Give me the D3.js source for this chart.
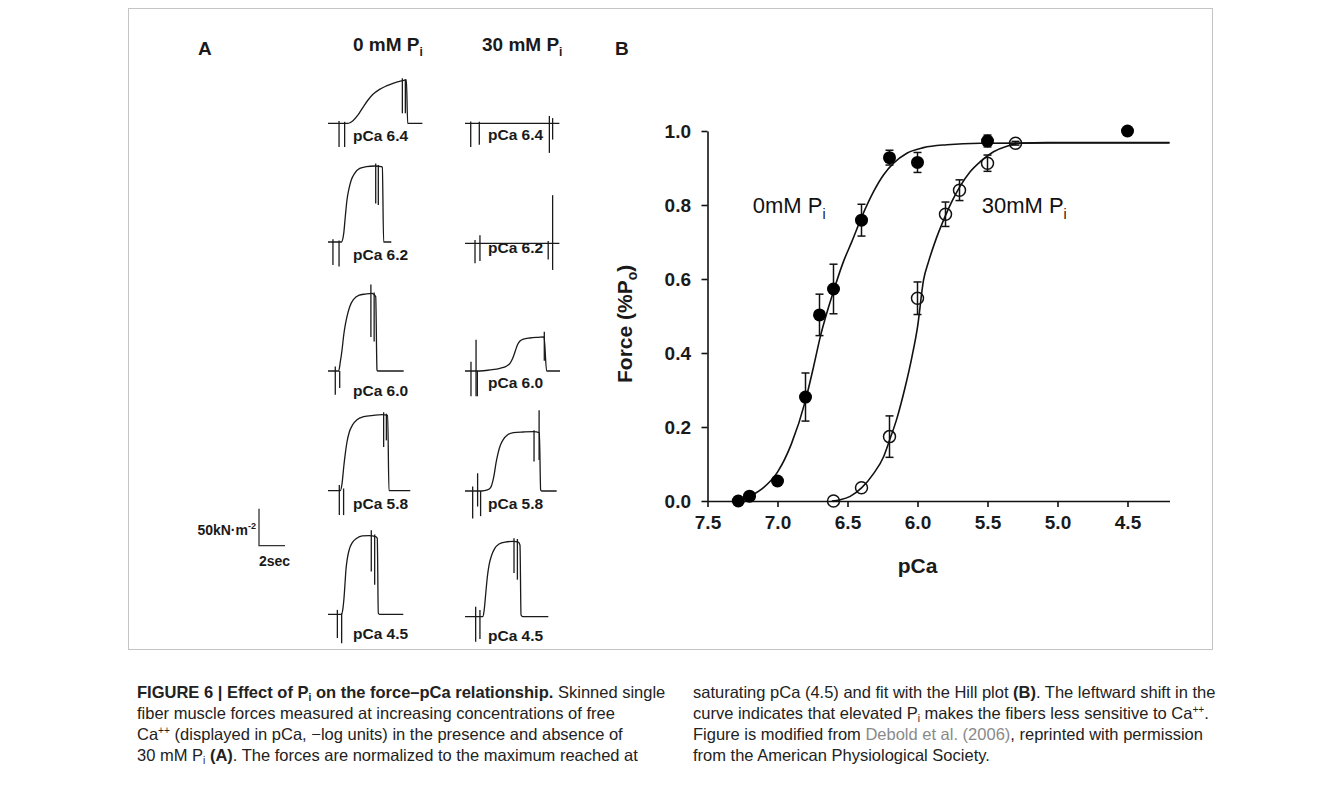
<!DOCTYPE html>
<html><head><meta charset="utf-8">
<script src="https://cdn.jsdelivr.net/npm/d3@7"></script>
<style>
html,body{margin:0;padding:0;background:#fff;}
svg{display:block;font-family:"Liberation Sans",Arial,Helvetica,sans-serif;}
</style></head>
<body>
<svg id="fig" width="1341" height="793"></svg>
<script>
// ---------------- DATA ----------------
// Panel B: force-pCa data (0 mM Pi, filled circles)
const pCa0   = [7.28, 7.2, 7.0, 6.8, 6.7, 6.6, 6.4, 6.2, 6.0, 5.5, 4.5];
const force0 = [0.0, 0.013, 0.054, 0.281, 0.503, 0.573, 0.759, 0.928, 0.915, 0.973, 1.0];
const err0   = [0, 0, 0, 0.065, 0.056, 0.067, 0.043, 0.02, 0.027, 0.016, 0];
// 30 mM Pi, open circles
const pCa30   = [6.6, 6.4, 6.2, 6.0, 5.8, 5.7, 5.5, 5.3];
const force30 = [0.0, 0.036, 0.174, 0.548, 0.775, 0.840, 0.913, 0.967];
const err30   = [0, 0, 0.056, 0.044, 0.033, 0.028, 0.022, 0.005];
// Hill fit curves
const fitPCa0   = [7.30, 7.2, 7.1, 7.0, 6.9, 6.8, 6.743, 6.695, 6.595, 6.529, 6.469, 6.398, 6.314, 6.243, 6.171, 6.076, 5.957, 5.79, 5.552, 4.2];
const fitForce0 = [0.0, 0.0126, 0.036, 0.078, 0.155, 0.272, 0.362, 0.443, 0.573, 0.647, 0.701, 0.768, 0.836, 0.881, 0.913, 0.940, 0.955, 0.963, 0.967, 0.968];
const fitPCa30   = [6.612, 6.552, 6.481, 6.398, 6.314, 6.243, 6.2, 6.148, 6.088, 6.04, 6.0, 5.957, 5.921, 5.874, 5.814, 5.755, 5.695, 5.624, 5.552, 5.457, 5.362, 5.267, 5.076, 4.2];
const fitForce30 = [0.0, 0.0036, 0.0126, 0.036, 0.074, 0.119, 0.164, 0.222, 0.308, 0.389, 0.470, 0.597, 0.647, 0.701, 0.759, 0.809, 0.851, 0.890, 0.917, 0.944, 0.959, 0.967, 0.969, 0.969];
const xTicks = [7.5, 7.0, 6.5, 6.0, 5.5, 5.0, 4.5];
const yTicks = [0.0, 0.2, 0.4, 0.6, 0.8, 1.0];

// Panel A: force traces [time s, force kN/m^2] and artefact spikes [time s, min, max]
const traceLabels = ["pCa 6.4", "pCa 6.2", "pCa 6.0", "pCa 5.8", "pCa 4.5"];
const trace0_64 = [[0,0],[1.54,0],[1.92,3.6],[2.31,11.3],[2.69,21.6],[3.08,31.5],[3.46,39.2],[3.97,45.9],[4.49,50.5],[5.0,54.1],[5.64,57.2],[6.03,58.6],[6.13,0],[7.26,0]];
const spikes0_64 = [[0.85,-32,3],[1.28,-32,2],[5.72,13.5,60.8],[5.95,13.5,59.5]];
const trace0_62 = [[0,0],[1.03,0],[1.21,11.7],[1.33,34.2],[1.46,56.8],[1.62,72.5],[1.79,83.8],[2.05,92.8],[2.44,99.5],[2.95,101.8],[3.59,102.7],[4.1,101.8],[4.18,100.9],[4.28,0],[4.87,0]];
const spikes0_62 = [[0.38,-31,3.6],[0.85,-33,2],[3.67,52,106],[3.87,50,104]];
const trace0_60 = [[0,0],[0.82,0],[0.95,12.6],[1.08,28.4],[1.21,48.6],[1.33,62.2],[1.46,73.4],[1.67,86.9],[1.97,96.8],[2.36,102.3],[2.87,104],[3.38,105],[3.67,100.5],[3.77,1.4],[3.82,0],[5.82,0]];
const spikes0_60 = [[0.56,-32,6],[0.9,-23,0],[3.3,46,117],[3.55,40,106]];
const trace0_58 = [[0,0],[0.95,0],[1.08,9.5],[1.21,32],[1.33,50],[1.46,65.8],[1.64,79.3],[1.9,89.2],[2.23,96],[2.74,100],[3.51,101.8],[4.15,102.7],[4.59,101.8],[4.69,0],[6.33,0]];
const spikes0_58 = [[0.87,-33,7.7],[1.2,-33,3],[4.28,59,106],[4.49,68,104]];
const trace0_45 = [[0,0],[1.03,0],[1.15,8.1],[1.23,21.6],[1.31,41.9],[1.38,59.9],[1.49,75.7],[1.64,87.8],[1.87,96.8],[2.21,102.7],[2.64,105.9],[3.15,106.3],[3.67,105],[3.79,102.7],[3.87,1.4],[3.97,0],[5.79,0]];
const spikes0_45 = [[0.72,-32,6],[1.05,-39,1.4],[3.33,58,113.5],[3.59,40,108]];
const trace30_64 = [[0,0],[7.26,0]];
const spikes30_64 = [[0.44,-32,2.3],[1.1,-29,2],[6.49,-40,10],[6.74,-22,7]];
const trace30_62 = [[0,0],[7.26,0]];
const spikes30_62 = [[0.77,-27,4.5],[1.15,-24,11],[6.4,-22,3],[6.74,-36,65]];
const trace30_60 = [[0,0],[1.15,0],[1.92,1.4],[2.69,3.6],[3.21,6.8],[3.46,10.4],[3.67,17.1],[3.85,26.1],[4.03,35.1],[4.23,40.5],[4.49,43.2],[5.0,44.6],[5.64,45.5],[6.08,46],[6.28,0],[7.31,0]];
const spikes30_60 = [[0.46,-34,12.6],[0.85,-34,42.3],[0.95,-34,0],[6.1,14,53]];
const trace30_58 = [[0,0],[1.28,0],[1.72,1.4],[1.97,4.5],[2.13,12.6],[2.26,23.9],[2.38,37.4],[2.54,50.9],[2.72,61.7],[2.95,69.8],[3.26,75.7],[3.72,78.8],[4.49,79.7],[5.26,80.2],[5.72,78.8],[5.82,1.4],[5.9,0],[7.05,0]];
const spikes30_58 = [[0.59,-37,6],[0.97,-21,24],[1.2,-34,0],[5.31,40,82],[5.7,42,109]];
const trace30_45 = [[0,0],[1.36,0],[1.46,6.8],[1.54,20.3],[1.62,36],[1.72,54],[1.85,69.8],[2.03,82],[2.28,91.9],[2.62,98.2],[3.08,100.9],[3.72,101.8],[4.1,100.9],[4.23,96.8],[4.31,2.3],[4.44,0],[6.41,0]];
const spikes30_45 = [[0.82,-34,13.5],[1.15,-30,9],[3.77,59,106],[4.03,50,105]];
const scaleBarForce = 50;  // kN m^-2
const scaleBarTime = 2;    // s

// ---------------- LAYOUT ----------------
const svg = d3.select("#fig");
const INK = "#1a1a1a";
const PX_PER_S = 13, PX_PER_KN = 0.74;

// figure frame
svg.append("rect").attr("x",128.5).attr("y",8.5).attr("width",1084).attr("height",641)
  .attr("fill","none").attr("stroke","#c4c4c4").attr("stroke-width",1);

// ---------- Panel A ----------
const colA = [
  {x0:328, label:"0 mM P", headX:353, labX:353,
   base:[123.3,242,371,490.7,614.3], labY:[141,260,396,508.5,639],
   traces:[trace0_64,trace0_62,trace0_60,trace0_58,trace0_45],
   spikes:[spikes0_64,spikes0_62,spikes0_60,spikes0_58,spikes0_45]},
  {x0:465, label:"30 mM P", headX:482, labX:488,
   base:[123.3,243.3,371,491,616.7], labY:[140,252.5,387.5,508.5,641],
   traces:[trace30_64,trace30_62,trace30_60,trace30_58,trace30_45],
   spikes:[spikes30_64,spikes30_62,spikes30_60,spikes30_58,spikes30_45]}
];

svg.append("text").attr("x",198).attr("y",55).attr("font-size",19).attr("font-weight","bold").attr("fill",INK).text("A");

colA.forEach(col=>{
  const h = svg.append("text").attr("x",col.headX).attr("y",51).attr("font-size",19).attr("font-weight","bold").attr("fill",INK);
  h.append("tspan").text(col.label);
  h.append("tspan").attr("font-size",12).attr("dy",5).text("i");
  col.traces.forEach((tr,i)=>{
    const xs = d3.scaleLinear().domain([0,10]).range([col.x0, col.x0+10*PX_PER_S]);
    const ys = d3.scaleLinear().domain([0,100]).range([col.base[i], col.base[i]-100*PX_PER_KN]);
    const line = d3.line().x(d=>xs(d[0])).y(d=>ys(d[1])).curve(d3.curveMonotoneX);
    svg.append("path").attr("d",line(tr)).attr("fill","none").attr("stroke",INK).attr("stroke-width",1.3);
    svg.append("g").selectAll("line").data(col.spikes[i]).join("line")
      .attr("x1",d=>xs(d[0])).attr("x2",d=>xs(d[0]))
      .attr("y1",d=>ys(d[1])).attr("y2",d=>ys(d[2]))
      .attr("stroke",INK).attr("stroke-width",1.3);
    svg.append("text").attr("x",col.labX).attr("y",col.labY[i]).attr("font-size",15.5).attr("font-weight","bold")
      .attr("fill",INK).text(traceLabels[i]);
  });
});

// scale bar
{
  const xs = d3.scaleLinear().domain([0,10]).range([259, 259+10*PX_PER_S]);
  const ys = d3.scaleLinear().domain([0,100]).range([545.7, 545.7-100*PX_PER_KN]);
  const p = d3.path();
  p.moveTo(xs(0), ys(scaleBarForce)); p.lineTo(xs(0), ys(0)); p.lineTo(xs(scaleBarTime), ys(0));
  svg.append("path").attr("d",p.toString()).attr("fill","none").attr("stroke","#333").attr("stroke-width",1.3);
  const t = svg.append("text").attr("x",256).attr("y",535).attr("text-anchor","end").attr("font-size",14).attr("font-weight","bold").attr("fill",INK);
  t.append("tspan").text("50kN·m");
  t.append("tspan").attr("font-size",9).attr("dy",-6).text("-2");
  svg.append("text").attr("x",259).attr("y",566).attr("font-size",14).attr("font-weight","bold").attr("fill",INK).text("2sec");
}

// ---------- Panel B ----------
svg.append("text").attr("x",615).attr("y",55).attr("font-size",19).attr("font-weight","bold").attr("fill",INK).text("B");

const x = d3.scaleLinear().domain([7.5, 4.2]).range([707.5, 1169.5]);
const y = d3.scaleLinear().domain([0, 1]).range([501, 131]);
const fmt = d3.format(".1f");

const gx = svg.append("g").attr("transform",`translate(0,${y(0)})`)
  .call(d3.axisBottom(x).tickValues(xTicks).tickFormat(fmt).tickSize(6).tickSizeOuter(0));
const gy = svg.append("g").attr("transform",`translate(${x(7.5)},0)`)
  .call(d3.axisLeft(y).tickValues(yTicks).tickFormat(fmt).tickSize(6).tickSizeOuter(0));
[gx,gy].forEach(g=>{
  g.select(".domain").attr("stroke","#111").attr("stroke-width",1.6);
  g.selectAll(".tick line").attr("stroke","#111").attr("stroke-width",1.6);
  g.selectAll(".tick text").attr("font-family","'Liberation Sans',Arial,sans-serif").attr("font-size",19)
   .attr("font-weight","bold").attr("fill",INK);
});
gx.selectAll(".tick text").attr("y",28).attr("dy",0);
gy.selectAll(".tick text").attr("x",-16.5).attr("dy","0.36em");

// axis titles
svg.append("text").attr("x",x(6.0)).attr("y",573).attr("text-anchor","middle").attr("font-size",21)
  .attr("font-weight","bold").attr("fill",INK).text("pCa");
{
  const t = svg.append("text").attr("transform","translate(632,383) rotate(-90)").attr("font-size",21)
    .attr("font-weight","bold").attr("fill",INK);
  t.append("tspan").text("Force (%P");
  t.append("tspan").attr("font-size",14).attr("dy",5).text("o");
  t.append("tspan").attr("dy",-5).text(")");
}

// fit curves
const fitLine = d3.line().x(d=>x(d[0])).y(d=>y(d[1])).curve(d3.curveMonotoneX);
svg.append("path").attr("d",fitLine(d3.zip(fitPCa0,fitForce0))).attr("fill","none").attr("stroke","#111").attr("stroke-width",1.6);
svg.append("path").attr("d",fitLine(d3.zip(fitPCa30,fitForce30))).attr("fill","none").attr("stroke","#111").attr("stroke-width",1.6);

// error bars
function errBars(px, fy, er){
  const g = svg.append("g").attr("stroke","#111").attr("stroke-width",1.5);
  d3.range(px.length).filter(i=>er[i]>0).forEach(i=>{
    const cx = x(px[i]);
    g.append("line").attr("x1",cx).attr("x2",cx).attr("y1",y(fy[i]-er[i])).attr("y2",y(fy[i]+er[i]));
    g.append("line").attr("x1",cx-4).attr("x2",cx+4).attr("y1",y(fy[i]-er[i])).attr("y2",y(fy[i]-er[i]));
    g.append("line").attr("x1",cx-4).attr("x2",cx+4).attr("y1",y(fy[i]+er[i])).attr("y2",y(fy[i]+er[i]));
  });
}
errBars(pCa0, force0, err0);
errBars(pCa30, force30, err30);

svg.append("g").selectAll("circle").data(d3.zip(pCa0,force0)).join("circle")
  .attr("cx",d=>x(d[0])).attr("cy",d=>y(d[1])).attr("r",6.5).attr("fill","#000");
svg.append("g").selectAll("circle").data(d3.zip(pCa30,force30)).join("circle")
  .attr("cx",d=>x(d[0])).attr("cy",d=>y(d[1])).attr("r",6).attr("fill","none").attr("stroke","#111").attr("stroke-width",1.5);

// series annotations
function ann(xp, txt){
  const t = svg.append("text").attr("x",xp).attr("y",213.3).attr("font-size",22).attr("fill","#111");
  t.append("tspan").text(txt);
  t.append("tspan").attr("font-size",14).attr("dy",6).text("i");
}
ann(752.7, "0mM P");
ann(981.7, "30mM P");

// ---------- Caption ----------
const CAP = "#222", CAPFS = 16.5;
function capLine(xp, yp, parts){
  const t = svg.append("text").attr("x",xp).attr("y",yp).attr("font-size",CAPFS).attr("fill",CAP);
  parts.forEach(p=>{
    const s = t.append("tspan").text(p.t);
    if(p.b) s.attr("font-weight","bold");
    if(p.c) s.attr("fill",p.c);
    if(p.sub){ s.attr("font-size",CAPFS*0.62).attr("dy",3); }
    if(p.sup){ s.attr("font-size",CAPFS*0.62).attr("dy",-6); }
    if(p.back) s.attr("dy",p.back);
  });
}
capLine(137, 698, [{t:"FIGURE 6 | Effect of P",b:1},{t:"i",b:1,sub:1},{t:" on the force–pCa relationship.",b:1,back:-3},{t:" Skinned single"}]);
capLine(137, 719, [{t:"fiber muscle forces measured at increasing concentrations of free"}]);
capLine(137, 740, [{t:"Ca"},{t:"++",sup:1},{t:" (displayed in pCa, −log units) in the presence and absence of",back:6}]);
capLine(137, 761, [{t:"30 mM P"},{t:"i",sub:1},{t:" ",back:-3},{t:"(A)",b:1},{t:". The forces are normalized to the maximum reached at"}]);
capLine(693, 698, [{t:"saturating pCa (4.5) and fit with the Hill plot "},{t:"(B)",b:1},{t:". The leftward shift in the"}]);
capLine(693, 719, [{t:"curve indicates that elevated P"},{t:"i",sub:1},{t:" makes the fibers less sensitive to Ca",back:-3},{t:"++",sup:1},{t:".",back:6}]);
capLine(693, 740, [{t:"Figure is modified from "},{t:"Debold et al. (2006)",c:"#8a8a8a"},{t:", reprinted with permission"}]);
capLine(693, 761, [{t:"from the American Physiological Society."}]);
</script>
</body></html>
